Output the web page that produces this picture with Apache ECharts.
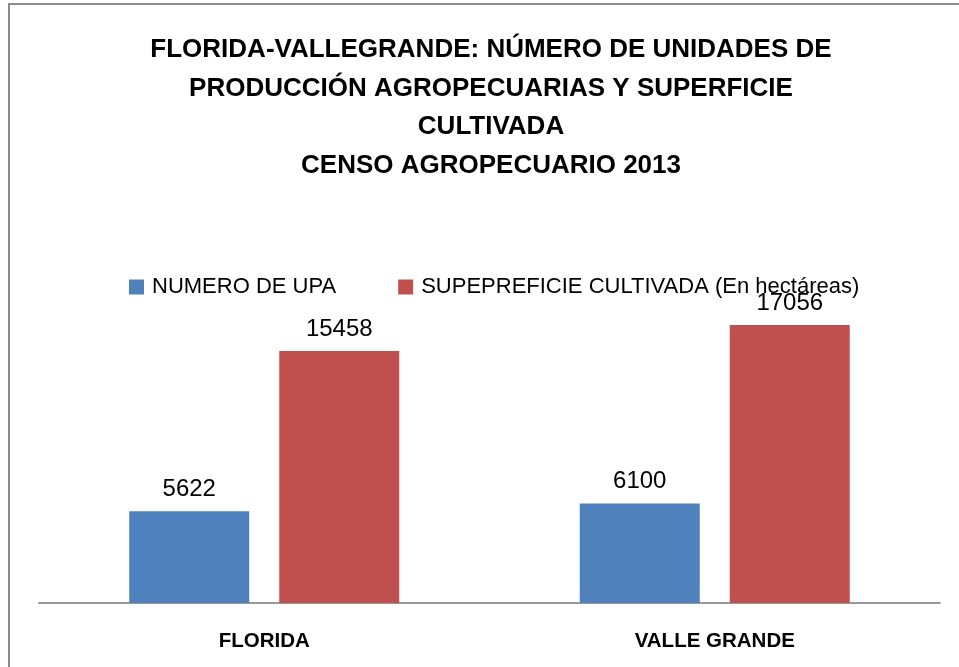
<!DOCTYPE html>
<html>
<head>
<meta charset="utf-8">
<script src="https://cdn.jsdelivr.net/npm/echarts@6/dist/echarts.min.js"></script>
<style>
  html, body { margin: 0; padding: 0; overflow: hidden; background: #fff; }
  #chart { width: 982px; height: 667px; }
</style>
</head>
<body>
<div id="chart"></div>
<script>
// data
const categories = ['FLORIDA', 'VALLE GRANDE'];
const seriesNames = ['NUMERO DE UPA', 'SUPEPREFICIE CULTIVADA (En hectáreas)'];
const upa = [5622, 6100];
const superficie = [15458, 17056];
const titleLines = [
  'FLORIDA-VALLEGRANDE: NÚMERO DE UNIDADES DE',
  'PRODUCCIÓN AGROPECUARIAS Y SUPERFICIE',
  'CULTIVADA',
  'CENSO AGROPECUARIO 2013'
];

const font = 'Liberation Sans';
const myChart = echarts.init(document.getElementById('chart'));

const barLabel = {
  show: true,
  position: 'top',
  distance: 10,
  fontFamily: font,
  fontSize: 24,
  color: '#000'
};

myChart.setOption({
  animation: false,
  title: {
    text: titleLines.join('\n'),
    left: 'center',
    top: 26,
    textStyle: {
      fontFamily: font,
      fontWeight: 'bold',
      fontSize: 26,
      lineHeight: 38.5,
      color: '#000'
    }
  },
  graphic: [
    {
      type: 'rect',
      shape: { x: 9, y: 4, width: 964, height: 700 },
      style: { fill: 'none', stroke: '#8c8c8c', lineWidth: 2 },
      silent: true
    }
  ],
  legend: {
    left: 129,
    top: 276,
    padding: 0,
    itemWidth: 15,
    itemHeight: 15,
    itemGap: 62,
    icon: 'rect',
    textStyle: { fontFamily: font, fontSize: 22, color: '#000', padding: [0, 0, 0, 3] },
    data: seriesNames
  },
  grid: {
    left: 39,
    right: 42,
    top: 277,
    height: 326
  },
  xAxis: {
    type: 'category',
    data: categories,
    axisLine: { lineStyle: { color: '#999', width: 2 } },
    axisTick: { show: false },
    axisLabel: {
      margin: 28,
      fontFamily: font,
      fontWeight: 'bold',
      fontSize: 20.5,
      color: '#000'
    }
  },
  yAxis: {
    type: 'value',
    min: 0,
    max: 20000,
    show: false,
    splitLine: { show: false }
  },
  series: [
    {
      name: seriesNames[0],
      type: 'bar',
      data: upa,
      barWidth: 120,
      barGap: '25%',
      itemStyle: { color: '#4f81bd' },
      label: barLabel
    },
    {
      name: seriesNames[1],
      type: 'bar',
      data: superficie,
      barWidth: 120,
      barGap: '25%',
      itemStyle: { color: '#c0504d' },
      label: barLabel
    }
  ]
});
</script>
</body>
</html>
